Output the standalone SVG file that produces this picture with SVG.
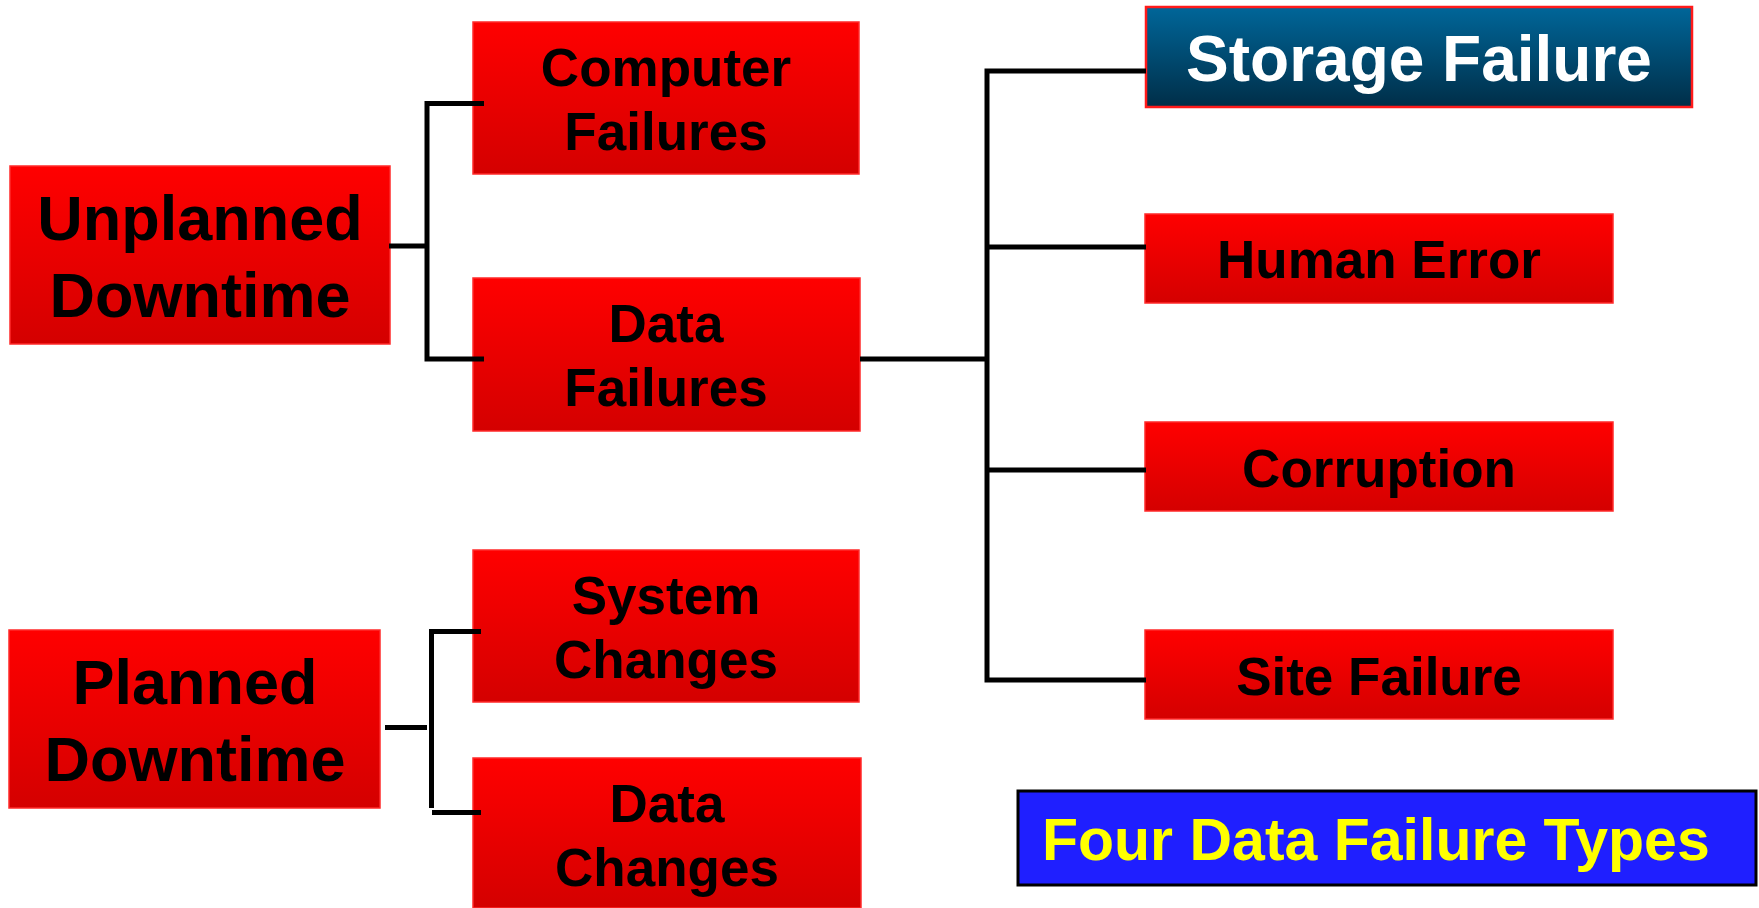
<svg xmlns="http://www.w3.org/2000/svg" width="1759" height="908" viewBox="0 0 1759 908">
<defs>
<linearGradient id="red" x1="0" y1="0" x2="0" y2="1">
<stop offset="0" stop-color="#FF0000"/>
<stop offset="1" stop-color="#D40000"/>
</linearGradient>
<linearGradient id="blue" x1="0" y1="0" x2="0" y2="1">
<stop offset="0" stop-color="#006699"/>
<stop offset="1" stop-color="#002E48"/>
</linearGradient>
</defs>
<style>
.box{fill:url(#red);stroke:#FF2A2A;stroke-width:1.5}
.t{font-family:"Liberation Sans",Arial,sans-serif;font-weight:bold;fill:#000;text-anchor:middle}
.ln{stroke:#000;stroke-width:5;fill:none}
</style>
<rect width="1759" height="908" fill="#fff"/>
<g id="unplanned">
<rect class="box" x="10" y="166" width="380" height="178"/>
<text class="t" x="200" y="240" font-size="63">Unplanned</text>
<text class="t" x="200" y="317" font-size="63">Downtime</text>
</g>
<g id="computer">
<rect class="box" x="473" y="22" width="386" height="152"/>
<text class="t" x="666" y="86" font-size="53">Computer</text>
<text class="t" x="666" y="150" font-size="53">Failures</text>
</g>
<g id="datafail">
<rect class="box" x="473" y="278" width="387" height="153"/>
<text class="t" x="666" y="342" font-size="53">Data</text>
<text class="t" x="666" y="406" font-size="53">Failures</text>
</g>
<g id="planned">
<rect class="box" x="9" y="630" width="371" height="178"/>
<text class="t" x="195" y="704" font-size="63">Planned</text>
<text class="t" x="195" y="781" font-size="63">Downtime</text>
</g>
<g id="system">
<rect class="box" x="473" y="550" width="386" height="152"/>
<text class="t" x="666" y="614" font-size="53">System</text>
<text class="t" x="666" y="678" font-size="53">Changes</text>
</g>
<g id="datachanges">
<rect class="box" x="473" y="758" width="388" height="150"/>
<text class="t" x="667" y="822" font-size="53">Data</text>
<text class="t" x="667" y="886" font-size="53">Changes</text>
</g>
<g id="storage">
<rect x="1146" y="7" width="546" height="100" fill="url(#blue)" stroke="#FF1A1A" stroke-width="2.5"/>
<text class="t" x="1419" y="81" font-size="64" style="fill:#fff">Storage Failure</text>
</g>
<g id="human">
<rect class="box" x="1145" y="214" width="468" height="89"/>
<text class="t" x="1379" y="278" font-size="53">Human Error</text>
</g>
<g id="corruption">
<rect class="box" x="1145" y="422" width="468" height="89"/>
<text class="t" x="1379" y="487" font-size="53">Corruption</text>
</g>
<g id="site">
<rect class="box" x="1145" y="630" width="468" height="89"/>
<text class="t" x="1379" y="695" font-size="53">Site Failure</text>
</g>
<g id="fourtypes">
<rect x="1018" y="791" width="738" height="94" fill="#1F1FFF" stroke="#000" stroke-width="3"/>
<text x="1042" y="860" font-size="59" font-family="Liberation Sans, Arial, sans-serif" font-weight="bold" fill="#FFFF00">Four Data Failure Types</text>
</g>
<g id="connectors">
<path class="ln" d="M389 246 H427"/>
<path class="ln" d="M484 103.5 H427 V359 H484"/>
<path class="ln" d="M385 727.5 H427"/>
<path class="ln" d="M481 631.5 H431.5 V808"/>
<path class="ln" d="M432 812.5 H481"/>
<path class="ln" d="M860 359 H987"/>
<path class="ln" d="M1146 71 H987 V680 H1146"/>
<path class="ln" d="M987 247 H1146"/>
<path class="ln" d="M987 470 H1146"/>
</g>
</svg>
